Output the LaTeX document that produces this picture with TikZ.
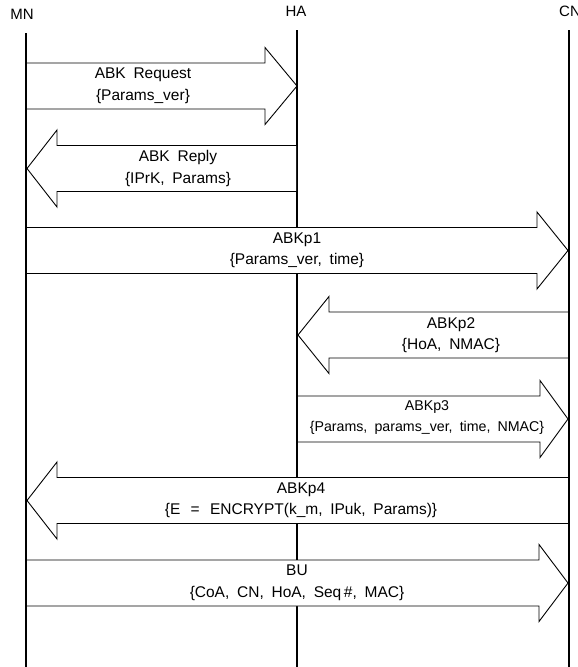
\documentclass[tikz,border=0pt]{standalone}
\usepackage{fontspec}
\setmainfont[WordSpace=1.8]{Liberation Sans}
% #1 body start x, #2 fill start x, #3 head base x, #4 tip x, #5 mid y
\newcommand\fatmsg[5]{%
  \fill[white] (#2,#5-23) -- (#3,#5-23) -- (#3,#5-38.5) -- (#4,#5) -- (#3,#5+38.5) -- (#3,#5+23) -- (#2,#5+23) -- cycle;
  \draw[fat] (#1,#5-23) -- (#3,#5-23) -- (#3,#5-38.5) -- (#4,#5) -- (#3,#5+38.5) -- (#3,#5+23) -- (#1,#5+23);
}
\begin{document}
\begin{tikzpicture}[x=1pt,y=-1pt,
  life/.style={line width=1.6pt},
  fat/.style={draw=black, line width=0.9pt, line join=miter},
  lbl/.style={font=\fontsize{15.5}{21.5}\selectfont, align=center, inner sep=0pt},
  hd/.style={font=\fontsize{15}{17}\selectfont, inner sep=0pt}]
\useasboundingbox (0,0) rectangle (578,667);

% lifeline heads
\node[hd] (MN) at (22,14) {MN};
\node[hd] (HA) at (296,11) {HA};
\node[hd] (CN) at (570,11) {CN};
\coordinate (MNt) at (26,33);  \coordinate (MNb) at (26,667);
\coordinate (HAt) at (297,30); \coordinate (HAb) at (297,667);
\coordinate (CNt) at (569,30); \coordinate (CNb) at (569,667);

\draw[life] (HAt) -- (HAb);

% messages
\fatmsg{26}{27}{265}{297}{86}
\fatmsg{297}{296}{57}{27}{168.5}
\fatmsg{26}{27}{537}{568}{250.5}
\fatmsg{569}{568}{329}{298}{335}
\fatmsg{297}{298}{540}{568}{419}
\fatmsg{569}{568}{57}{27}{500.5}
\fatmsg{26}{27}{539}{568}{583}

\draw[life] (MNt) -- (MNb);
\draw[life] (CNt) -- (CNb);

% labels
\node[lbl] (t1) at (143,86) {ABK Request\\\{Params\_ver\}};
\node[lbl] (t2) at (178,168.5) {ABK Reply\\\{IPrK, Params\}};
\node[lbl] (t3) at (297,250.5) {ABKp1\\\{Params\_ver, time\}};
\node[lbl] (t4) at (451,335) {ABKp2\\\{HoA, NMAC\}};
\node[lbl, font=\fontsize{14.2}{21}\selectfont] (t5) at (427,418) {ABKp3\\\{Params, params\_ver, time, NMAC\}};
\node[lbl] (t6) at (301,500.5) {ABKp4\\\{E \,=\, ENCRYPT(k\_m, IPuk, Params)\}};
\node[lbl] (t7) at (297,583) {BU\\\{CoA, CN, HoA, Seq\,\#, MAC\}};
\end{tikzpicture}
\end{document}
